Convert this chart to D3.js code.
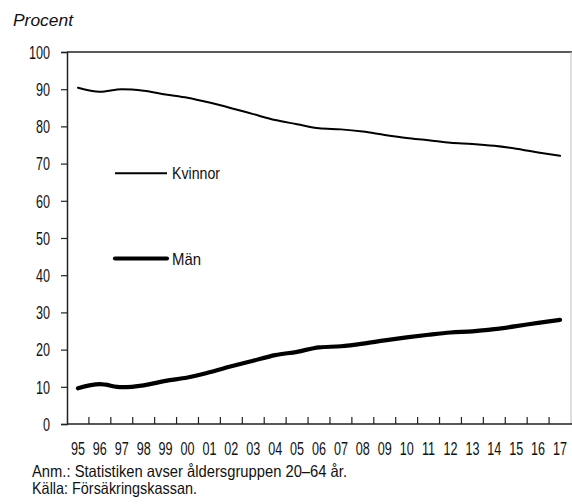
<!DOCTYPE html>
<html><head><meta charset="utf-8">
<script src="https://cdn.jsdelivr.net/npm/d3@7"></script>
<style>
html,body{margin:0;padding:0;background:#fff;}
svg text{font-family:"Liberation Sans","Arimo",Arial,sans-serif;fill:#111;}
</style></head>
<body>
<svg id="c" width="572" height="504"></svg>
<script>
const years = ["95","96","97","98","99","00","01","02","03","04","05","06","07","08","09","10","11","12","13","14","15","16","17"];
const kvinnor = [90.4,89.3,90.0,89.6,88.6,87.7,86.4,84.9,83.3,81.7,80.6,79.5,79.2,78.6,77.7,76.9,76.3,75.6,75.3,74.8,74.0,73.0,72.1];
const man = [9.6,10.7,9.9,10.4,11.6,12.5,13.9,15.5,17.0,18.5,19.4,20.6,20.9,21.6,22.5,23.3,24.0,24.6,24.9,25.5,26.3,27.2,28.0];
const yTicks = [0,10,20,30,40,50,60,70,80,90,100];
const seriesNames = ["Kvinnor","Män"];

const svg = d3.select("#c");
const L = 67, R = 571, T = 52, B = 424;
const x = d3.scaleBand().domain(years).range([L, R]);
const y = d3.scaleLinear().domain([0,100]).range([B, T]);

function condense(sel, factor){
  sel.each(function(){
    const len = this.getComputedTextLength();
    d3.select(this).attr("textLength", len*factor).attr("lengthAdjust","spacingAndGlyphs");
  });
}
function fitTo(sel, w){
  sel.attr("textLength", w).attr("lengthAdjust","spacingAndGlyphs");
}

// title
fitTo(svg.append("text").attr("x",13).attr("y",26).attr("font-size",17).attr("font-style","italic").text("Procent"), 60);

// frame top + right
svg.append("line").attr("x1",L).attr("x2",R+1).attr("y1",T).attr("y2",T).attr("stroke","#222").attr("stroke-width",1.5);
svg.append("line").attr("x1",R).attr("x2",R).attr("y1",T).attr("y2",B).attr("stroke","#bbb").attr("stroke-width",1);

// y axis
const ya = svg.append("g").attr("transform",`translate(${L},0)`)
  .call(d3.axisLeft(y).tickValues(yTicks).tickSize(6).tickPadding(11));
ya.select(".domain").attr("stroke","#222").attr("stroke-width",1.5);
ya.selectAll(".tick line").attr("stroke","#222").attr("stroke-width",1.2);
ya.selectAll(".tick text").attr("font-size",17.5).attr("font-family",null).attr("fill","#111").attr("dy","0.36em");
condense(ya.selectAll(".tick text"), 0.72);

// x axis: ticks at band boundaries pointing up
const xa = svg.append("g").attr("transform",`translate(0,${B})`);
xa.append("line").attr("x1",L).attr("x2",R+1).attr("y1",0).attr("y2",0).attr("stroke","#222").attr("stroke-width",1.5);
years.forEach((yr,i)=>{
  if(i>0){
    const bx = x(yr);
    xa.append("line").attr("x1",bx).attr("x2",bx).attr("y1",0).attr("y2",-7).attr("stroke","#222").attr("stroke-width",1.2);
  }
});
const xl = xa.selectAll("text.xl").data(years).enter().append("text").attr("class","xl")
  .attr("x",d=>x(d)+x.bandwidth()/2).attr("y",30.5).attr("text-anchor","middle").attr("font-size",17.5).text(d=>d);
condense(xl, 0.72);

// lines
const line = d3.line().x((d,i)=>x(years[i])+x.bandwidth()/2).y(d=>y(d)).curve(d3.curveMonotoneX);
svg.append("path").datum(kvinnor).attr("d",line).attr("fill","none").attr("stroke","#000").attr("stroke-width",2).attr("stroke-linejoin","round").attr("stroke-linecap","round");
svg.append("path").datum(man).attr("d",line).attr("fill","none").attr("stroke","#000").attr("stroke-width",4.2).attr("stroke-linejoin","round").attr("stroke-linecap","round");

// legend
const widths=[2,4.2], legY=[173.3,258.5], legW=[48,29];
seriesNames.forEach((n,i)=>{
  svg.append("line").attr("x1",115).attr("x2",167).attr("y1",legY[i]).attr("y2",legY[i]).attr("stroke","#000").attr("stroke-width",widths[i]).attr("stroke-linecap", i? "round":"butt");
  fitTo(svg.append("text").attr("x",172).attr("y",legY[i]).attr("dy","0.36em").attr("font-size",17).text(n), legW[i]);
});

// notes
fitTo(svg.append("text").attr("x",32).attr("y",477).attr("font-size",16.5).text("Anm.: Statistiken avser åldersgruppen 20–64 år."), 315);
fitTo(svg.append("text").attr("x",32).attr("y",494).attr("font-size",16.5).text("Källa: Försäkringskassan."), 165);
</script>
</body></html>
